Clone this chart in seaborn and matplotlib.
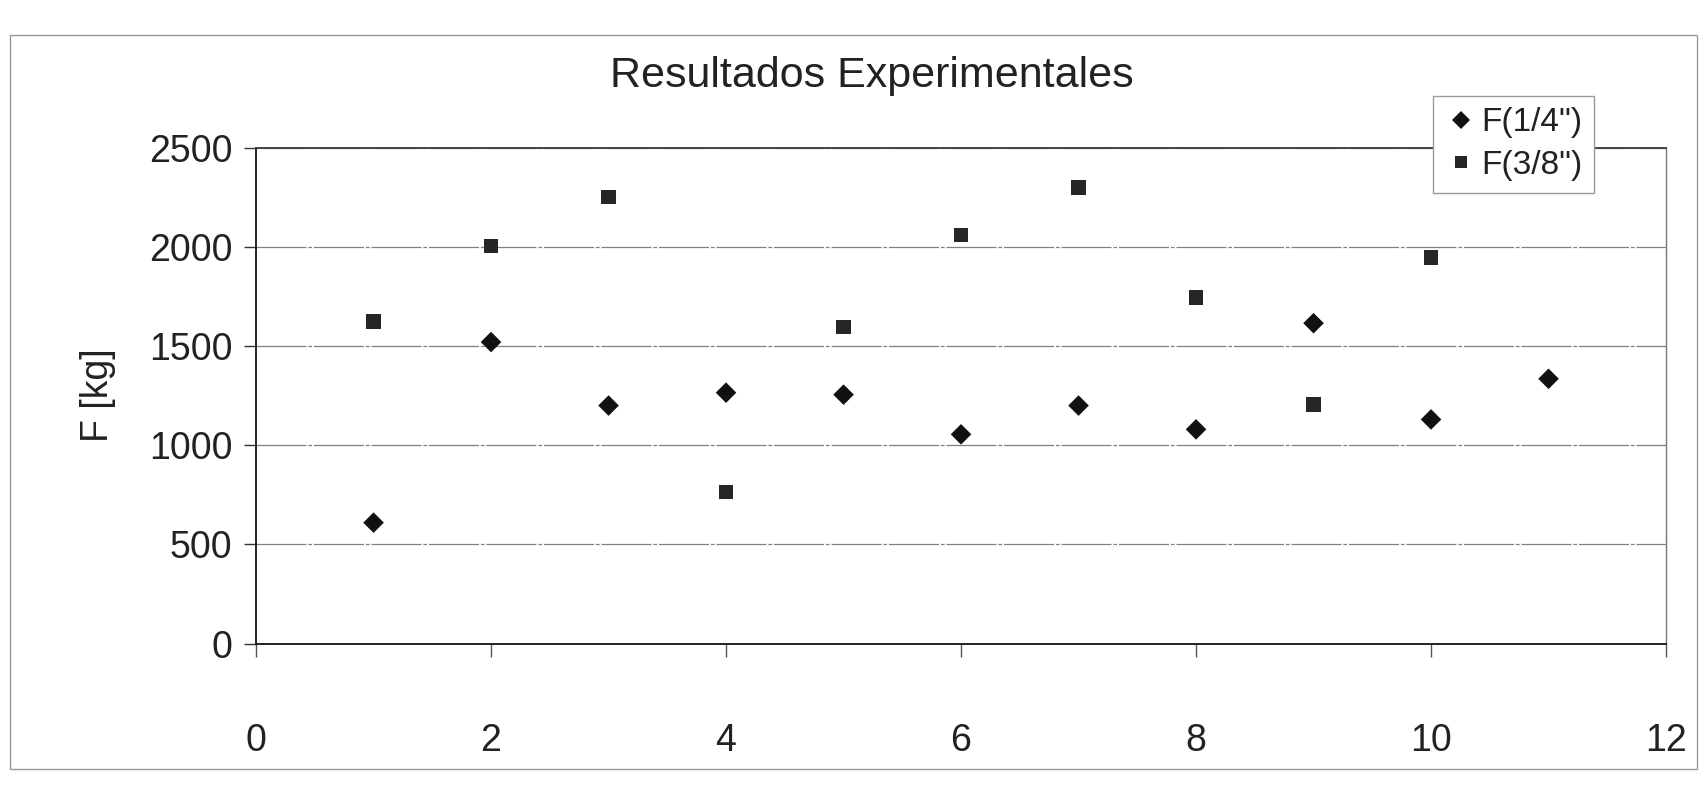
import matplotlib
matplotlib.use("Agg")
import matplotlib.pyplot as plt
import matplotlib.patches as mpatches
import numpy as np
import pandas as pd
import seaborn as sns

# Ensayo: fuerza de rotura por muestra
muestras_14 = [1, 2, 3, 4, 5, 6, 7, 8, 9, 10, 11]
fuerza_14 = [610, 1520, 1200, 1265, 1255, 1055, 1200, 1080, 1615, 1130, 1335]
muestras_38 = [1, 2, 3, 4, 5, 6, 7, 8, 9, 10]
fuerza_38 = [1625, 2005, 2250, 765, 1595, 2060, 2300, 1745, 1205, 1945]
series = ['F(1/4")', 'F(3/8")']

y_ticks = [0, 500, 1000, 1500, 2000, 2500]
x_ticks = [0, 2, 4, 6, 8, 10, 12]

df = pd.concat([
    pd.DataFrame({"x": muestras_14, "F": fuerza_14, "serie": series[0]}),
    pd.DataFrame({"x": muestras_38, "F": fuerza_38, "serie": series[1]}),
], ignore_index=True)

sns.set_theme(style="white")
plt.rcParams["font.family"] = ["Liberation Sans", "DejaVu Sans"]

fig = plt.figure(figsize=(17.07, 7.85), dpi=100)
ax = fig.add_axes([0.150, 0.180, 0.826, 0.632])

sns.scatterplot(
    data=df, x="x", y="F", hue="serie", style="serie",
    markers={series[0]: "D", series[1]: "s"},
    palette={series[0]: "#111111", series[1]: "#262626"},
    s=110, linewidth=0, ax=ax, legend=True, zorder=3,
)

ax.set_xlim(0, 12)
ax.set_ylim(0, 2500)
ax.set_xticks(x_ticks)
ax.set_yticks(y_ticks)
ax.set_xticklabels([str(v) for v in x_ticks])
ax.set_yticklabels([str(v) for v in y_ticks])
ax.yaxis.grid(True, color="#808080", linewidth=0.9, linestyle=(0, (40, 1.5, 3, 1.5)))
ax.xaxis.grid(False)
ax.set_axisbelow(True)

ax.tick_params(axis="y", direction="out", length=9, width=1, color="#333333",
               pad=8, labelsize=27, labelcolor="#222222", left=True)
ax.tick_params(axis="x", direction="out", length=9, width=1, color="#555555",
               pad=48, labelsize=27, labelcolor="#222222", bottom=True)

for side in ("left", "bottom"):
    ax.spines[side].set_color("#222222")
    ax.spines[side].set_linewidth(1.4)
ax.spines["top"].set_color("#444444")
ax.spines["top"].set_linewidth(1.4)
ax.spines["right"].set_color("#777777")
ax.spines["right"].set_linewidth(1.0)

ax.set_xlabel("")
ax.set_ylabel("F [kg]", fontsize=27, color="#222222", labelpad=24)

fig.text(0.511, 0.903, "Resultados Experimentales", ha="center", va="center",
         fontsize=31, color="#222222")

handles, labels = ax.get_legend_handles_labels()
ax.get_legend().remove()
for h in handles:
    h.set_markersize(9)
leg = fig.legend(handles, labels, loc="upper right",
                 bbox_to_anchor=(0.934, 0.878), bbox_transform=fig.transFigure,
                 fontsize=24, frameon=True, fancybox=False, handletextpad=0.1,
                 borderpad=0.35, labelspacing=0.35, borderaxespad=0,
                 handlelength=1.0)
leg.get_frame().set_edgecolor("#9a9a9a")
leg.get_frame().set_linewidth(1.0)
leg.get_frame().set_facecolor("white")
leg.get_frame().set_alpha(1)
for t in leg.get_texts():
    t.set_color("#222222")

# Borde del área del gráfico
fig.patches.append(mpatches.Rectangle((0.006, 0.02), 0.988, 0.935,
                                      transform=fig.transFigure, fill=False,
                                      edgecolor="#9a9a9a", linewidth=1.0))

fig.savefig("out.png", dpi=100, facecolor="white")
